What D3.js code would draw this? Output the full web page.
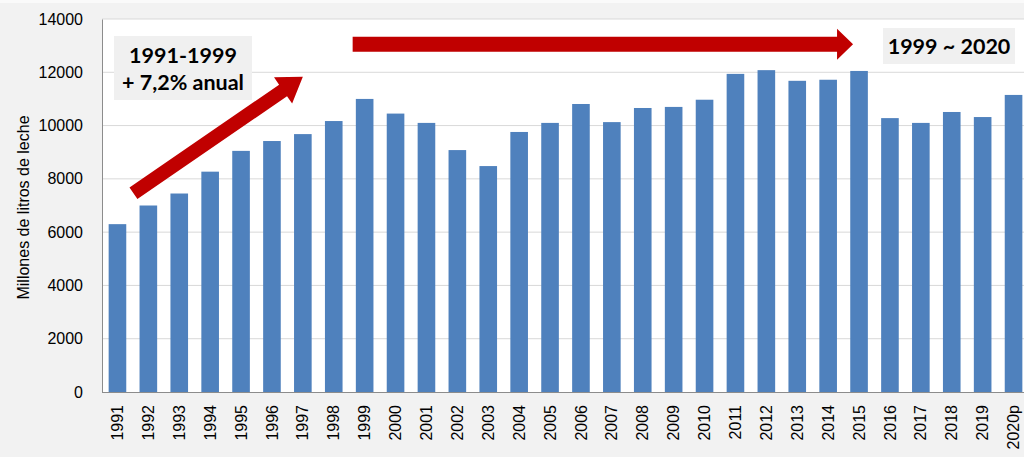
<!DOCTYPE html>
<html>
<head>
<meta charset="utf-8">
<script src="https://cdn.jsdelivr.net/npm/d3@7.9.0/dist/d3.min.js"></script>
<style>
  html, body { margin: 0; padding: 0; background: #f2f2f2; }
  svg { display: block; }
  .tick text { font-family: "Liberation Sans", Arial, sans-serif; font-size: 16px; fill: #000; }
  .note { font-family: Lato, "Open Sans", sans-serif; font-weight: bold; font-size: 21.5px; fill: #000; }
</style>
</head>
<body>
<svg id="chart" width="1024" height="457"></svg>
<script>
// milk production, millions of litres
const years = ['1991','1992','1993','1994','1995','1996','1997','1998','1999','2000',
  '2001','2002','2003','2004','2005','2006','2007','2008','2009','2010',
  '2011','2012','2013','2014','2015','2016','2017','2018','2019','2020p'];
const litros = [6300, 7000, 7450, 8270, 9050, 9420, 9680, 10170, 11000, 10450,
  10100, 9080, 8480, 9760, 10100, 10810, 10130, 10660, 10700, 10970,
  11940, 12080, 11680, 11720, 12050, 10280, 10100, 10510, 10320, 11150];
const yTicks = [0, 2000, 4000, 6000, 8000, 10000, 12000, 14000];
const yTitle = 'Millones de litros de leche';

const svg = d3.select('#chart');
const W = 1024, H = 457;
const m = { left: 102, top: 19, bottom: 392 };

const x = d3.scaleBand().domain(years).range([m.left, m.left + 30 * 30.9]).paddingInner(0.43).paddingOuter(0.215);
const y = d3.scaleLinear().domain([0, 14000]).range([m.bottom, m.top]);
const cx = d => x(d) + x.bandwidth() / 2;

// thin lighter strip on top
svg.append('rect').attr('x', 0).attr('y', 0).attr('width', W).attr('height', 3).attr('fill', '#fafafa');

// plot area
svg.append('rect')
  .attr('x', m.left).attr('y', m.top)
  .attr('width', W - m.left).attr('height', m.bottom - m.top)
  .attr('fill', '#fff');

// gridlines
svg.append('g').selectAll('line')
  .data(yTicks.slice(1))
  .join('line')
  .attr('x1', m.left).attr('x2', W)
  .attr('y1', d => y(d)).attr('y2', d => y(d))
  .attr('stroke', '#d9d9d9').attr('stroke-width', 1);

// bars
svg.append('g').selectAll('rect')
  .data(years)
  .join('rect')
  .attr('x', d => x(d))
  .attr('width', x.bandwidth())
  .attr('y', (d, i) => y(litros[i]))
  .attr('height', (d, i) => y(0) - y(litros[i]))
  .attr('fill', '#4f81bd');

// y axis
const yAxis = svg.append('g')
  .attr('transform', `translate(${m.left},0)`)
  .call(d3.axisLeft(y).tickValues(yTicks).tickSize(0).tickPadding(19).tickFormat(d3.format('d')));
yAxis.select('.domain').attr('stroke', '#8c8c8c');

// x axis
const xAxis = svg.append('g')
  .attr('transform', `translate(0,${m.bottom})`)
  .call(d3.axisBottom(x).tickSize(0));
xAxis.select('.domain').attr('stroke', '#8c8c8c').attr('d', `M${m.left},0.5H${W}`);
xAxis.selectAll('.tick text')
  .attr('transform', 'rotate(-90)')
  .attr('text-anchor', 'end')
  .attr('x', -13)
  .attr('y', 0)
  .attr('dy', '0.35em');

// y title
svg.append('text')
  .attr('transform', `translate(29,${(m.top + m.bottom) / 2 + 2}) rotate(-90)`)
  .attr('text-anchor', 'middle')
  .style('font-family', '"Liberation Sans", Arial, sans-serif')
  .style('font-size', '16px')
  .text(yTitle);

// arrow shape helper
function arrow(x0, y0, x1, y1, w, hw, hl) {
  const len = Math.hypot(x1 - x0, y1 - y0);
  const ux = (x1 - x0) / len, uy = (y1 - y0) / len;
  const nx = -uy, ny = ux;
  const bx = x1 - ux * hl, by = y1 - uy * hl;
  const p = [
    [x0 + nx * w / 2, y0 + ny * w / 2],
    [bx + nx * w / 2, by + ny * w / 2],
    [bx + nx * hw / 2, by + ny * hw / 2],
    [x1, y1],
    [bx - nx * hw / 2, by - ny * hw / 2],
    [bx - nx * w / 2, by - ny * w / 2],
    [x0 - nx * w / 2, y0 - ny * w / 2]
  ];
  return 'M' + p.map(q => q.join(',')).join('L') + 'Z';
}

const red = '#c00000';
svg.append('path')
  .attr('d', arrow(cx('1991') + 16, y(7460), cx('1997'), y(11830), 14, 32, 24))
  .attr('fill', red);
svg.append('path')
  .attr('d', arrow(cx('1999') - 12, y(13050), cx('2015') - 6, y(13050), 15, 31, 16))
  .attr('fill', red);

// note boxes
const notes = [
  { x0: 114, x1: 252, y0: 36, y1: 100, lines: ['1991-1999', '+ 7,2% anual'], base: 63 },
  { x0: 883, x1: 1015, y0: 28, y1: 64, lines: ['1999 ~ 2020'], base: 54 }
];
notes.forEach(n => {
  svg.append('rect')
    .attr('x', n.x0).attr('y', n.y0)
    .attr('width', n.x1 - n.x0).attr('height', n.y1 - n.y0)
    .attr('fill', '#f0f0f0');
  n.lines.forEach((t, i) => {
    svg.append('text')
      .attr('class', 'note')
      .attr('x', (n.x0 + n.x1) / 2)
      .attr('y', n.base + i * 27)
      .attr('text-anchor', 'middle')
      .text(t);
  });
});
</script>
</body>
</html>
